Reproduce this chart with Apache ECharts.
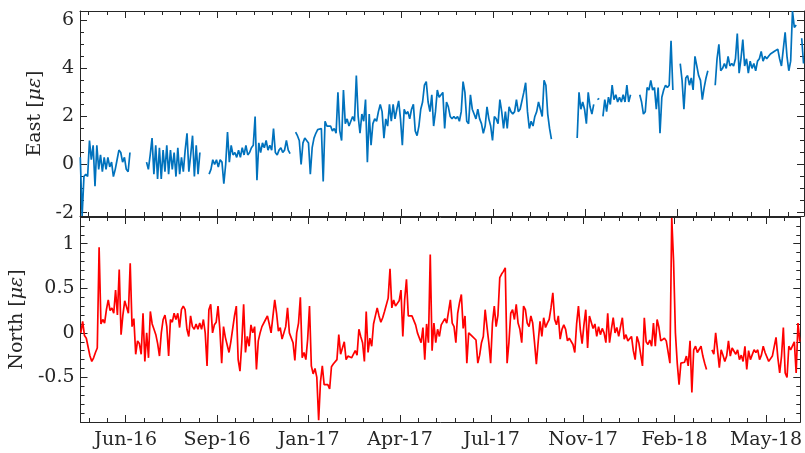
<!DOCTYPE html>
<html>
<head>
<meta charset="utf-8">
<script src="https://cdn.jsdelivr.net/npm/echarts@6/dist/echarts.min.js"></script>
<style>
  html, body { margin: 0; padding: 0; background: #fff; }
  #chart { width: 805px; height: 453px; }
</style>
</head>
<body>
<div id="chart"></div>
<script>
// Daily strain record, sampled every 2 days.
// Day numbers count from 2016-06-19 (day 0); null marks missing data.
const dayStart = -49;
const dayStep = 2;

// East strain [microstrain]
const eastValues = [
  0.3, -2.14, -0.5, -0.4, -0.5, 1.0, 0.2, 0.8, -0.9, 0.8,
  -0.2, 0.4, -0.3, 0.3, -0.2, 0.3, -0.1, 0.1, -0.5, -0.2,
  0.2, 0.6, 0.5, 0.1, 0.3, -0.2, -0.3, 0.5, null, null,
  null, null, null, null, null, null, 0.1, -0.2, 0.4, 1.1,
  -0.4, 0.8, -0.6, 0.7, -0.6, 0.6, -0.3, 0.8, -0.4, 0.6,
  -0.2, 0.5, -0.5, 0.7, -0.4, 0.3, -0.3, 0.6, 1.3, -0.3,
  0.4, 1.2, -0.5, 0.8, -0.4, 0.5, null, null, null, null,
  -0.4, -0.2, 0.2, 0.0, 0.2, -0.1, 0.2, 0.1, -0.8, 0.0,
  1.35, 0.1, 0.8, 0.4, 0.5, 0.3, 0.6, 0.3, 0.7, 0.4,
  0.8, 0.4, 0.5, 0.7, 0.8, 2.0, -0.65, 0.9, 0.5, 0.9,
  0.7, 1.0, 0.6, 0.8, 0.6, 1.5, 0.5, 0.4, 0.6, 0.7,
  0.5, 0.6, 1.0, 0.6, 0.45, null, null, 1.35, 1.2, 1.0,
  0.0, 0.9, 1.1, 1.15, 0.9, -0.4, 0.7, 1.1, 1.3, 1.45,
  1.5, 1.5, -0.7, 1.8, 1.6, 1.55, 1.6, 1.4, 1.5, 1.3,
  3.0, 1.4, 1.0, 3.1, 1.7, 1.9, 1.6, 1.8, 2.0, 1.8,
  3.7, 2.0, 1.3, 2.1, 1.8, 2.7, 0.1, 2.1, 0.8, 1.7,
  1.9, 1.8, 2.2, 2.5, 2.2, 1.1, 1.9, 1.6, 2.5, 1.8,
  2.5, 1.9, 2.3, 2.65, 1.9, 0.8, 2.3, 2.1, 2.2, 1.9,
  2.3, 2.5, 1.4, 1.2, 1.6, 2.3, 2.6, 3.3, 3.45, 2.6,
  2.2, 2.9, 1.6, 2.2, 3.1, 2.8, 2.8, 3.0, 1.5, 2.6,
  2.4, 2.0, 1.9, 2.0, 1.9, 2.0, 1.8, 2.2, 3.45, 3.0,
  1.8, 1.7, 2.9, 2.3, 2.1, 1.9, 2.3, 1.9, 1.7, 1.3,
  1.6, 2.4, 1.9, 1.6, 1.0, 2.0, 1.9, 1.7, 2.7, 2.2,
  1.5, 2.2, 1.5, 2.4, 2.2, 2.1, 2.2, 2.7, 2.2, 2.3,
  2.3, 3.0, 3.4, 2.2, 1.5, 1.8, 1.6, 2.0, 2.2, 2.6,
  2.3, 2.0, 3.5, 3.3, 2.1, 1.5, 1.06, null, null, null,
  null, null, null, null, null, null, null, null, null, null,
  1.1, 3.0, 2.3, 2.6, 2.3, 1.7, 3.0, 2.4, 2.1, 2.5,
  null, 2.7, 2.75, null, 2.0, 2.7, 2.2, 2.8, 2.5, 3.3,
  2.7, 2.9, 2.6, 2.8, 2.6, 2.9, 2.6, 3.3, 2.6, 2.9,
  null, null, null, null, 2.9, 2.6, 2.1, 2.2, 3.2, 3.1,
  3.5, 3.1, 3.2, 2.3, 3.2, 1.3, 2.8, 3.1, 3.3, 3.2,
  3.3, 5.15, 3.1, null, null, null, 4.2, 3.5, 2.3, 3.6,
  3.7, 3.3, 3.6, 3.1, 4.5, 4.1, 3.7, 3.5, 2.7, 3.2,
  3.6, 3.9, null, null, null, 3.3, 4.4, 5.0, 3.9, 4.0,
  4.2, 4.0, 4.5, 4.1, 4.2, 4.1, 4.4, 5.45, 3.8, 4.4,
  5.2, 4.1, 4.4, 3.8, 4.3, 4.0, 4.2, 3.9, 4.3, 4.4,
  4.7, 4.3, 4.5, 4.4, 4.5, 4.6, 4.6, 4.7, 4.7, 4.8,
  4.4, 4.1, 4.8, 5.5, 4.5, 3.9, 4.3, 6.38, 5.7, 5.8,
  null, null, 5.25, 4.2
];

// North strain [microstrain]
const northValues = [
  0.0, 0.13, -0.03, -0.06, -0.05, -0.26, -0.32, -0.28, -0.22, -0.17,
  0.96, 0.1, 0.15, 0.11, 0.26, 0.37, 0.25, 0.28, 0.22, 0.48,
  0.2, 0.71, -0.02, 0.2, 0.36, 0.37, 0.22, 0.78, 0.07, 0.16,
  -0.24, -0.09, -0.12, -0.24, 0.22, -0.32, 0.0, -0.28, 0.24, 0.1,
  0.04, -0.02, -0.12, -0.26, 0.0, 0.15, 0.2, 0.07, -0.26, 0.15,
  0.12, 0.22, 0.15, 0.22, 0.06, 0.26, 0.3, 0.26, 0.04, -0.04,
  0.19, 0.07, 0.04, 0.1, 0.04, 0.11, 0.04, 0.15, 0.0, -0.37,
  0.26, 0.32, 0.0, 0.09, 0.12, 0.3, 0.04, -0.34, 0.07, -0.05,
  -0.07, -0.22, -0.1, -0.09, 0.19, 0.3, -0.3, -0.43, -0.11, 0.32,
  -0.22, -0.04, -0.15, 0.09, 0.0, 0.07, -0.41, -0.09, 0.0, 0.07,
  0.07, 0.15, 0.19, 0.1, 0.0, -0.02, 0.37, 0.22, 0.02, 0.06,
  -0.07, 0.0, 0.07, 0.28, 0.0, 0.02, -0.11, -0.31, 0.0, 0.11,
  0.4, -0.28, -0.22, -0.3, -0.07, 0.3, -0.37, -0.46, -0.4, -0.5,
  -0.98, -0.55, -0.37, -0.58, -0.6, -0.58, -0.63, -0.38, -0.35, -0.37,
  -0.3, -0.02, -0.24, -0.22, -0.1, -0.3, -0.26, -0.28, -0.28, -0.28,
  -0.2, -0.25, 0.04, -0.04, -0.11, -0.32, 0.24, -0.22, -0.06, -0.15,
  0.1, 0.19, 0.28, 0.19, 0.12, 0.17, 0.24, 0.26, 0.39, 0.72,
  0.28, 0.37, 0.3, 0.3, 0.36, 0.48, -0.04, 0.37, 0.6, 0.19,
  0.2, 0.19, 0.19, 0.09, 0.0, -0.02, -0.11, 0.06, -0.3, 0.1,
  -0.11, 0.88, -0.2, 0.11, -0.11, 0.04, -0.04, 0.09, 0.11, 0.16,
  0.11, 0.09, 0.37, 0.11, 0.07, -0.11, 0.22, 0.34, 0.43, 0.05,
  0.19, -0.34, 0.0, -0.02, -0.04, -0.02, -0.08, -0.34, -0.25, -0.11,
  -0.04, 0.26, 0.07, -0.11, -0.34, 0.11, 0.3, 0.07, 0.2, 0.62,
  0.66, 0.69, 0.73, -0.34, -0.11, 0.22, 0.26, 0.15, 0.32, 0.11,
  0.04, -0.11, 0.3, 0.26, 0.11, 0.07, 0.19, 0.11, -0.11, -0.35,
  -0.1, 0.13, -0.04, 0.17, 0.06, 0.11, 0.15, 0.28, 0.45, 0.15,
  0.09, 0.19, -0.07, 0.04, 0.09, 0.04, -0.09, -0.06, -0.04, -0.13,
  -0.22, 0.1, 0.3, 0.04, -0.12, 0.09, 0.26, -0.17, 0.19, 0.18,
  0.05, 0.1, -0.04, 0.07, -0.02, 0.05, 0.0, -0.11, 0.22, -0.11,
  0.04, 0.17, 0.0, 0.06, -0.04, 0.07, 0.17, -0.07, -0.02, -0.09,
  -0.11, -0.04, -0.2, -0.3, -0.04, -0.11, -0.1, -0.37, 0.17, -0.1,
  -0.13, -0.08, -0.15, 0.11, -0.15, 0.15, 0.06, -0.09, -0.1, -0.06,
  -0.09, -0.11, -0.34, 1.29, 0.8, 0.0, -0.34, -0.58, -0.34, -0.32,
  -0.33, -0.26, -0.37, -0.09, -0.67, -0.19, -0.15, -0.22, -0.22, -0.15,
  -0.26, -0.34, -0.41, null, null, -0.19, -0.24, 0.0, -0.19, -0.39,
  -0.19, -0.25, -0.32, -0.26, -0.09, -0.26, -0.17, -0.19, -0.24, -0.19,
  -0.3, -0.25, -0.32, -0.15, -0.41, -0.2, -0.3, -0.32, -0.19, -0.22,
  -0.19, -0.3, -0.25, -0.15, -0.22, -0.22, -0.32, -0.3, -0.26, -0.28,
  -0.05, -0.28, -0.45, -0.26, 0.06, -0.45, -0.5, -0.15, -0.19, -0.2,
  -0.1, -0.45, 0.11, -0.1
];

// Date ticks (every 100 days) and their labels
const tickDays = [0, 100, 200, 300, 400, 500, 600, 700];
const tickNames = ['Jun-16', 'Sep-16', 'Jan-17', 'Apr-17', 'Jul-17', 'Nov-17', 'Feb-18', 'May-18'];

// Value ticks
const eastTicks = [-2, 0, 2, 4, 6];
const northTicks = [-0.5, 0, 0.5, 1];

// ---- build ----
const dayRange = [-49.3, 737.5];
const eastRange = [-2.14, 6.385];
const northRange = [-1.0, 1.3];

function toPairs(values) {
  return values.map((v, i) => [dayStart + i * dayStep, v]);
}
function steps(from, to, step, scale) {
  const out = [];
  for (let k = Math.round(from * scale); k <= Math.round(to * scale); k += Math.round(step * scale)) {
    out.push(k / scale);
  }
  return out;
}
const minorDays = steps(-40, 720, 20, 1);
const eastMinor = steps(-2, 6, 0.5, 10);
const northMinor = steps(-1, 1.3, 0.1, 10);

const ink = '#262626';
const fontFamily = 'DejaVu Serif';
const lineStyle = { color: ink, width: 1 };

function xAxes(grid, withLabels) {
  const base = {
    type: 'value', gridIndex: grid, min: dayRange[0], max: dayRange[1],
    splitLine: { show: false }
  };
  return [
    Object.assign({}, base, {
      position: 'bottom',
      axisLine: { show: true, onZero: false, lineStyle },
      axisTick: { show: true, inside: true, length: 7, customValues: tickDays, lineStyle },
      axisLabel: {
        show: withLabels, customValues: tickDays, margin: 9,
        color: ink, fontFamily, fontSize: 19,
        formatter: v => tickNames[tickDays.indexOf(v)] || ''
      }
    }),
    Object.assign({}, base, {
      position: 'bottom',
      axisLine: { show: false, onZero: false },
      axisTick: { show: true, inside: true, length: 4, customValues: minorDays, lineStyle },
      axisLabel: { show: false }
    }),
    Object.assign({}, base, {
      position: 'top',
      axisLine: { show: true, onZero: false, lineStyle },
      axisTick: { show: true, inside: true, length: 7, customValues: tickDays, lineStyle },
      axisLabel: { show: false }
    }),
    Object.assign({}, base, {
      position: 'top',
      axisLine: { show: false, onZero: false },
      axisTick: { show: true, inside: true, length: 4, customValues: minorDays, lineStyle },
      axisLabel: { show: false }
    })
  ];
}

function yAxes(grid, range, major, minor, name, nameGap) {
  const base = {
    type: 'value', gridIndex: grid, min: range[0], max: range[1],
    splitLine: { show: false }
  };
  return [
    Object.assign({}, base, {
      position: 'left',
      name: name, nameLocation: 'middle', nameRotate: 90, nameGap: nameGap,
      nameTextStyle: {
        color: ink, fontFamily, fontSize: 19,
        rich: { i: { fontStyle: 'italic', color: ink, fontFamily, fontSize: 19 } }
      },
      axisLine: { show: true, onZero: false, lineStyle },
      axisTick: { show: true, inside: true, length: 7, customValues: major, lineStyle },
      axisLabel: {
        show: true, customValues: major, margin: 6,
        color: ink, fontFamily, fontSize: 19,
        formatter: v => String(v)
      }
    }),
    Object.assign({}, base, {
      position: 'left',
      axisLine: { show: false, onZero: false },
      axisTick: { show: true, inside: true, length: 4, customValues: minor, lineStyle },
      axisLabel: { show: false }
    }),
    Object.assign({}, base, {
      position: 'right',
      axisLine: { show: true, onZero: false, lineStyle },
      axisTick: { show: true, inside: true, length: 7, customValues: major, lineStyle },
      axisLabel: { show: false }
    }),
    Object.assign({}, base, {
      position: 'right',
      axisLine: { show: false, onZero: false },
      axisTick: { show: true, inside: true, length: 4, customValues: minor, lineStyle },
      axisLabel: { show: false }
    })
  ];
}

const chart = echarts.init(document.getElementById('chart'), null, { renderer: 'canvas' });
chart.setOption({
  animation: false,
  backgroundColor: '#ffffff',
  grid: [
    { left: 80, top: 11, width: 724, height: 205 },
    { left: 80, top: 217, width: 724, height: 205 }
  ],
  xAxis: [].concat(xAxes(0, false), xAxes(1, true)),
  yAxis: [].concat(
    yAxes(0, eastRange, eastTicks, eastMinor, 'East [{i|με}]', 31),
    yAxes(1, northRange, northTicks, northMinor, 'North [{i|με}]', 48)
  ),
  series: [
    {
      name: 'East', type: 'line', xAxisIndex: 0, yAxisIndex: 0,
      data: toPairs(eastValues), showSymbol: false, connectNulls: false,
      lineStyle: { color: '#0072BD', width: 1.7 }, itemStyle: { color: '#0072BD' },
      clip: true
    },
    {
      name: 'North', type: 'line', xAxisIndex: 4, yAxisIndex: 4,
      data: toPairs(northValues), showSymbol: false, connectNulls: false,
      lineStyle: { color: '#FF0000', width: 1.7 }, itemStyle: { color: '#FF0000' },
      clip: true
    }
  ]
});
</script>
</body>
</html>
